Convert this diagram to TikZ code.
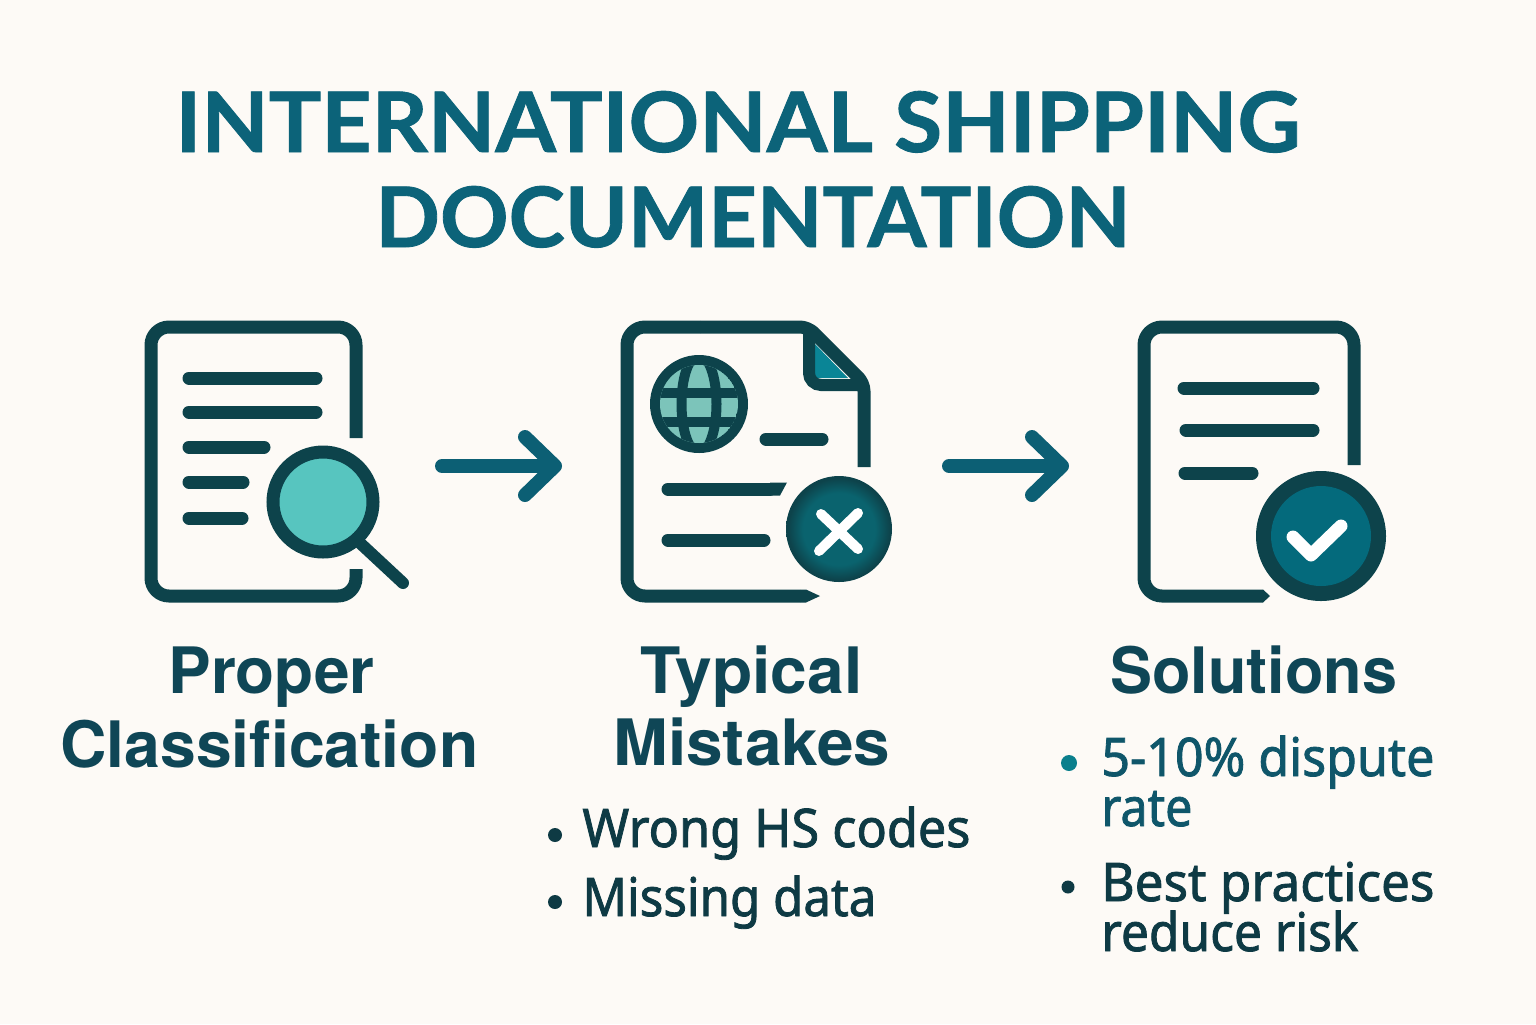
\documentclass[tikz,border=0pt]{standalone}
\usepackage{fontspec}
\usepackage{graphicx}
\setmainfont{Noto Sans}
\newfontfamily\titlef[BoldFeatures={FakeBold=1.0}]{Lato}
\newfontfamily\headf[Ligatures=NoCommon]{TeX Gyre Heros}
\newfontfamily\bodyf[FakeBold=1.6]{Noto Sans}
\usetikzlibrary{arrows.meta}
\definecolor{bgc}{HTML}{FDFAF6}
\definecolor{dark}{HTML}{0D434B}
\definecolor{titlec}{HTML}{0C6379}
\definecolor{headc}{HTML}{0F4656}
\definecolor{bodyc}{HTML}{0E3A44}
\definecolor{solc}{HTML}{0F566A}
\definecolor{arrowc}{HTML}{0C5F74}
\definecolor{mint}{HTML}{57C5BF}
\definecolor{globec}{HTML}{7CC4BA}
\definecolor{foldc}{HTML}{0A8596}
\definecolor{okc}{HTML}{046A7C}
\definecolor{xin}{HTML}{0A636E}
\definecolor{dotc}{HTML}{0A7F8C}
\pgfdeclareradialshading{xshade}{\pgfpointorigin}{color(0bp)=(xin);color(17bp)=(xin);color(24bp)=(dark);color(25bp)=(dark);color(50bp)=(dark)}
\tikzset{
  docline/.style={draw=dark,line width=6.5pt,line join=round},
  textbar/.style={draw=dark,line width=6.5pt,line cap=round},
  flowarrow/.style={draw=arrowc,line width=7pt,line cap=round,-{Straight Barb[length=15pt,width=29pt,line cap=round,round]}},
  lab/.style={inner sep=0pt,anchor=base west},
  dot/.style={circle,inner sep=0pt,minimum size=#1},
}
\newcommand{\lbl}[8]{\node[lab,text=#6] (#3) at (#1,#2) {\resizebox{#4pt}{\height}{\fontsize{#5}{#5}\selectfont#7#8}};}
\begin{document}
\begin{tikzpicture}[x=0.5pt,y=-0.5pt]
\useasboundingbox[fill=bgc] (0,0) rectangle (1536,1024);
% title
\lbl{175}{152}{t1}{562.5}{41.7}{titlec}{\titlef\bfseries}{INTERNATIONAL SHIPPING}
\lbl{375}{247}{t2}{377.5}{41.7}{titlec}{\titlef\bfseries}{DOCUMENTATION}
% doc 1
\draw[docline,rounded corners=9pt] (356,438) -- (356,327) -- (151,327) -- (151,596) -- (356,596) -- (356,569);
\foreach \n/\y/\e in {a/378/316,b/412/316,c/447/264,d/482/243,e/518/242}
  \draw[textbar] (189,\y) -- (\e,\y);
\draw[draw=dark,line width=6pt,line cap=round] (360,543) -- (403,583);
\draw[draw=dark,line width=6.5pt,fill=mint] (323,502) circle (50);
% arrow 1
\coordinate (a1s) at (442,466); \coordinate (a1e) at (562,466);
\draw[flowarrow] (a1s) -- (a1e);
% doc 2
\fill[foldc] (814,343) -- (814,378) -- (848,378) -- cycle;
\draw[docline,rounded corners=4pt] (864,467) -- (864,383) -- (808,327) -- (700,327);
\draw[docline,rounded corners=9pt] (700,327) -- (627,327) -- (627,596) -- (800,596);
\fill[dark] (800,589.5) -- (806,589.5) -- (820,596) -- (806,602.5) -- (800,602.5) -- cycle;
\draw[draw=dark,line width=6pt,rounded corners=6pt] (809,330) -- (809,385) -- (862,385);
\fill[dark] (699,404) circle (49);
\begin{scope}
  \clip (699,404) circle (39);
  \fill[globec] (699,404) circle (39);
  \draw[draw=dark,line width=5pt] (650,393) -- (750,393);
  \draw[draw=dark,line width=5pt] (650,422) -- (750,422);
  \draw[draw=dark,line width=5pt] (699,404) ellipse (17.5 and 49);
\end{scope}
\draw[textbar] (766,439) -- (822,439);
\draw[draw=dark,line width=6.5pt,line cap=round] (668,489) -- (770,489);
\fill[dark] (770,482.5) -- (787,482.5) -- (780,495.5) -- (770,495.5) -- cycle;
\draw[textbar] (668,540) -- (764,540);
\shade[shading=xshade] (839,529) circle (53);
\draw[draw=white,line width=5pt,line cap=round] (821,514) -- (858,549);
\draw[draw=white,line width=5pt,line cap=round] (858,513) -- (819,551);
% arrow 2
\coordinate (a2s) at (949,466); \coordinate (a2e) at (1069,466);
\draw[flowarrow] (a2s) -- (a2e);
% doc 3
\draw[docline,rounded corners=9pt] (1354,465) -- (1354,327) -- (1144,327) -- (1144,596) -- (1262,596);
\fill[dark] (1262,589.5) -- (1263,589.5) -- (1270,596) -- (1263,602.5) -- (1262,602.5) -- cycle;
\draw[textbar] (1184,388) -- (1313,388);
\draw[textbar] (1186,430) -- (1313,430);
\draw[textbar] (1185,473) -- (1252,473);
\fill[dark] (1321,536) circle (65);
\fill[okc] (1321,536) circle (50);
\draw[draw=white,line width=6.5pt,line cap=round,line join=round] (1293,537) -- (1311,555) -- (1341,526);
% headings
\lbl{168}{693}{h1}{103}{32}{headc}{\headf\bfseries}{Proper}
\lbl{60}{767}{h1b}{209}{32}{headc}{\headf\bfseries}{Classification}
\lbl{640}{693}{h2}{111}{32}{headc}{\headf\bfseries}{Typical}
\lbl{613}{765}{h2b}{138.5}{32}{headc}{\headf\bfseries}{Mistakes}
\lbl{1110}{693}{h3}{143.5}{32}{headc}{\headf\bfseries}{Solutions}
% bullets
\node[dot=14*0.5pt,fill=bodyc] (b1) at (555,835) {};
\lbl{582}{847}{w1}{194}{26.6}{bodyc}{\bodyf}{Wrong HS codes}
\node[dot=14*0.5pt,fill=bodyc] (b2) at (555,902) {};
\lbl{582}{916}{w2}{147}{26.6}{bodyc}{\bodyf}{Missing data}
\node[dot=16*0.5pt,fill=dotc] (b3) at (1069,763) {};
\lbl{1101}{776}{s1}{166.5}{26.6}{solc}{\bodyf}{5-10\% dispute}
\lbl{1101}{826}{s1b}{45.5}{26.6}{solc}{\bodyf}{rate}
\node[dot=13*0.5pt,fill=bodyc] (b4) at (1068,887) {};
\lbl{1101}{901}{s2}{166.5}{26.6}{bodyc}{\bodyf}{Best practices}
\lbl{1101}{951}{s2b}{128.5}{26.6}{bodyc}{\bodyf}{reduce risk}
\end{tikzpicture}
\end{document}
